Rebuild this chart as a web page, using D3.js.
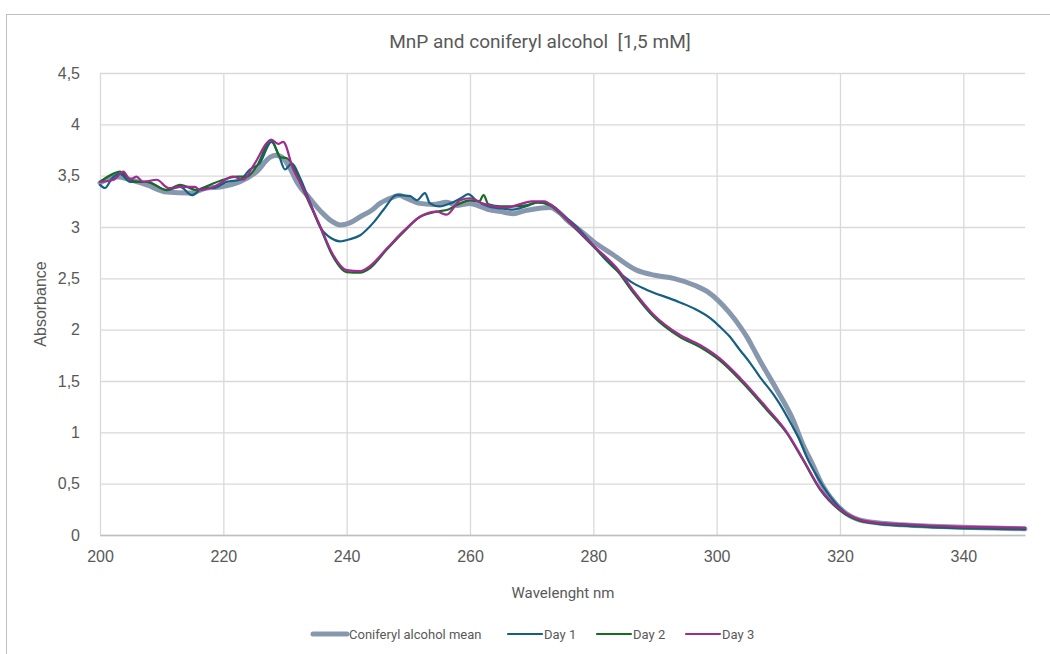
<!DOCTYPE html>
<html>
<head>
<meta charset="utf-8">
<script src="https://cdn.jsdelivr.net/npm/d3@7"></script>
<style>
  html, body { margin: 0; padding: 0; background: #fff; }
  svg { display: block; }
</style>
</head>
<body>
<svg id="chart" width="1050" height="654"></svg>
<script>
// Absorbance spectra: wavelength (nm) and absorbance for each measurement
const meanWl = [200,202.7,205,207.6,210.8,214.6,217.3,219.5,222.7,225.4,227.6,228.5,229.5,231,232,234,236,237.5,239,240.5,242.2,244,245.4,247.5,248.5,249.7,251.9,254,256.2,258,260,261.6,263,265,267,269,271,273,274.5,275.7,278,280,283.2,287,290,293,296.5,298.5,300.3,302,303.8,305,306,307,309.7,312.4,314,315.7,317,318.4,321,323,326,330,335,340,345,350];
const meanAbs = [3.43,3.49,3.46,3.41,3.34,3.33,3.38,3.39,3.44,3.54,3.68,3.70,3.68,3.55,3.43,3.28,3.14,3.06,3.02,3.04,3.10,3.16,3.23,3.29,3.31,3.28,3.23,3.22,3.24,3.21,3.23,3.20,3.17,3.15,3.13,3.16,3.18,3.19,3.14,3.07,2.96,2.86,2.73,2.58,2.53,2.50,2.43,2.37,2.28,2.17,2.03,1.92,1.81,1.70,1.42,1.12,0.88,0.67,0.50,0.37,0.21,0.15,0.12,0.10,0.085,0.075,0.068,0.06];

const day1Wl = [200,200.8,201.9,203.2,204.9,207.6,210.8,213,214.9,216.8,218.4,220.5,222.7,224.3,225.9,227.8,229,230,231.1,232.5,234,235.7,237.5,238.9,240.5,242.2,244.3,246,248.1,250.3,251.4,252.7,253.5,255.1,256.8,258.5,259.7,261,263,265,267,269,271,273,275,277,280,282,284.3,286,288.6,293,296.2,299,300.5,302,303.8,305.5,307,309.2,310.3,312,313.5,314.6,316,317.3,319,321,323,326,330,335,340,345,350];
const day1Abs = [3.41,3.38,3.47,3.52,3.44,3.44,3.36,3.39,3.31,3.38,3.38,3.44,3.46,3.56,3.62,3.83,3.70,3.56,3.62,3.47,3.25,3.00,2.89,2.86,2.88,2.92,3.04,3.17,3.31,3.30,3.26,3.33,3.23,3.20,3.23,3.28,3.32,3.26,3.20,3.18,3.17,3.20,3.24,3.22,3.12,3.02,2.82,2.68,2.55,2.47,2.39,2.29,2.21,2.11,2.03,1.94,1.80,1.67,1.54,1.37,1.27,1.09,0.92,0.76,0.60,0.47,0.33,0.21,0.15,0.11,0.09,0.075,0.065,0.06,0.055];

const day2Wl = [200,202.2,203.2,204.9,206.2,207.6,210.8,213,215.7,217.8,220,222.2,223.8,225.4,227.8,229.2,230.3,231.6,233,235.7,237.8,240,242.2,243.8,246.5,249.2,251.9,254.6,256.5,258.4,260,261.5,262.2,263,265,267,269,271,273,275,277,280,283.8,286.5,289.7,294,297.3,300.5,303.8,308.1,311.4,314,316.8,320,323.2,326,330,335,340,345,350];
const day2Abs = [3.44,3.52,3.54,3.46,3.44,3.44,3.36,3.41,3.36,3.41,3.46,3.49,3.49,3.59,3.85,3.68,3.67,3.56,3.36,3.00,2.71,2.56,2.555,2.60,2.78,2.95,3.10,3.15,3.17,3.23,3.26,3.25,3.31,3.22,3.20,3.20,3.21,3.24,3.21,3.11,2.99,2.81,2.58,2.36,2.13,1.93,1.83,1.70,1.51,1.22,0.99,0.73,0.44,0.24,0.14,0.115,0.10,0.085,0.075,0.07,0.065];

const day3Wl = [200,202.2,203.8,204.9,205.9,207,209.2,211.1,213,215.4,216.2,218.4,221.6,223.2,224.9,227.8,228.9,229.7,231.3,233,235.7,237.8,240,242.2,243.8,246.5,249.2,251.9,254.6,256.2,258.4,260,262,264,266,268,270,272,274,276,278,280,283.8,286.5,289.7,294,297.3,300.5,303.8,308.1,311.4,314,316.8,320,323.2,326,330,335,340,345,350];
const day3Abs = [3.44,3.46,3.54,3.46,3.49,3.44,3.46,3.38,3.39,3.39,3.36,3.39,3.49,3.46,3.60,3.85,3.81,3.83,3.57,3.37,3.01,2.73,2.58,2.57,2.62,2.79,2.96,3.10,3.15,3.12,3.26,3.28,3.23,3.20,3.19,3.22,3.25,3.25,3.17,3.06,2.94,2.82,2.60,2.38,2.15,1.95,1.85,1.72,1.53,1.24,1.00,0.74,0.45,0.25,0.15,0.12,0.105,0.09,0.08,0.075,0.07];

const seriesNames = ["Coniferyl alcohol mean", "Day 1", "Day 2", "Day 3"];
const xTicks = [200, 220, 240, 260, 280, 300, 320, 340];
const yTicks = [0, 0.5, 1, 1.5, 2, 2.5, 3, 3.5, 4, 4.5];

const series = [
  { name: seriesNames[0], wl: meanWl, abs: meanAbs, color: "#8798ae", width: 5 },
  { name: seriesNames[1], wl: day1Wl, abs: day1Abs, color: "#156082", width: 2.2 },
  { name: seriesNames[2], wl: day2Wl, abs: day2Abs, color: "#196b24", width: 2.2 },
  { name: seriesNames[3], wl: day3Wl, abs: day3Abs, color: "#a02b93", width: 2.2 }
];

const svg = d3.select("#chart");
const plot = { left: 100, right: 1025, top: 73, bottom: 535 };

// chart frame
svg.append("rect")
  .attr("x", 6.5).attr("y", 14.5)
  .attr("width", 1060).attr("height", 660)
  .attr("fill", "#fff").attr("stroke", "#bfbfbf").attr("stroke-width", 1);

const x = d3.scaleLinear().domain([200, 350]).range([plot.left, plot.right]);
const y = d3.scaleLinear().domain([0, 4.5]).range([plot.bottom, plot.top]);

const numFmt = v => String(v).replace(".", ",");

// horizontal gridlines
svg.append("g")
  .attr("transform", `translate(${plot.left},0)`)
  .call(d3.axisLeft(y).tickValues(yTicks).tickSize(-(plot.right - plot.left)).tickFormat(""))
  .call(g => g.select(".domain").remove())
  .call(g => g.selectAll("line").attr("stroke", "#d9d9d9").attr("stroke-width", 1.3));

// vertical gridlines
svg.append("g")
  .attr("transform", `translate(0,${plot.bottom})`)
  .call(d3.axisBottom(x).tickValues(xTicks).tickSize(-(plot.bottom - plot.top)).tickFormat(""))
  .call(g => g.select(".domain").remove())
  .call(g => g.selectAll("line").attr("stroke", "#d9d9d9").attr("stroke-width", 1.3));

// y tick labels
svg.append("g")
  .attr("transform", `translate(${plot.left},0)`)
  .call(d3.axisLeft(y).tickValues(yTicks).tickSize(0).tickPadding(20).tickFormat(numFmt))
  .call(g => g.select(".domain").remove())
  .call(g => g.selectAll("text")
    .attr("font-family", "Liberation Sans, Arial, sans-serif")
    .attr("font-size", 16).attr("fill", "#595959"));

// x axis line and tick labels
svg.append("g")
  .attr("transform", `translate(0,${plot.bottom})`)
  .call(d3.axisBottom(x).tickValues(xTicks).tickSize(0).tickPadding(16).tickFormat(d3.format("d")))
  .call(g => g.select(".domain").attr("stroke", "#bfbfbf").attr("stroke-width", 1.3))
  .call(g => g.selectAll("text")
    .attr("font-family", "Liberation Sans, Arial, sans-serif")
    .attr("font-size", 16).attr("fill", "#595959"));

// spectra
const line = d3.line()
  .x(d => x(d[0]))
  .y(d => y(d[1]))
  .curve(d3.curveMonotoneX);

svg.append("g").selectAll("path")
  .data(series)
  .join("path")
  .attr("d", s => line(s.wl.map((w, i) => [w, s.abs[i]])))
  .attr("fill", "none")
  .attr("stroke", s => s.color)
  .attr("stroke-width", s => s.width)
  .attr("stroke-linejoin", "round")
  .attr("stroke-linecap", "round");

// titles
svg.append("text")
  .attr("x", 540).attr("y", 48)
  .attr("text-anchor", "middle")
  .attr("font-family", "Roboto, sans-serif")
  .attr("font-size", 19).attr("fill", "#595959")
  .attr("xml:space", "preserve")
  .text("MnP and coniferyl alcohol  [1,5 mM]");

svg.append("text")
  .attr("x", 563).attr("y", 598)
  .attr("text-anchor", "middle")
  .attr("font-family", "Roboto, sans-serif")
  .attr("font-size", 15).attr("fill", "#595959")
  .text("Wavelenght nm");

svg.append("text")
  .attr("transform", "translate(46,304) rotate(-90)")
  .attr("text-anchor", "middle")
  .attr("font-family", "Liberation Sans, Arial, sans-serif")
  .attr("font-size", 16).attr("fill", "#595959")
  .text("Absorbance");

// legend
const legendPos = [313, 508, 597, 686];
const legend = svg.append("g").selectAll("g")
  .data(series)
  .join("g")
  .attr("transform", (s, i) => `translate(${legendPos[i]},634)`);

legend.append("line")
  .attr("x1", 0).attr("x2", 34)
  .attr("stroke", s => s.color)
  .attr("stroke-width", s => s.width)
  .attr("stroke-linecap", "round");

legend.append("text")
  .attr("x", 36).attr("y", 4.5)
  .attr("font-family", "Roboto, sans-serif")
  .attr("font-size", 13).attr("fill", "#595959")
  .text(s => s.name);
</script>
</body>
</html>
